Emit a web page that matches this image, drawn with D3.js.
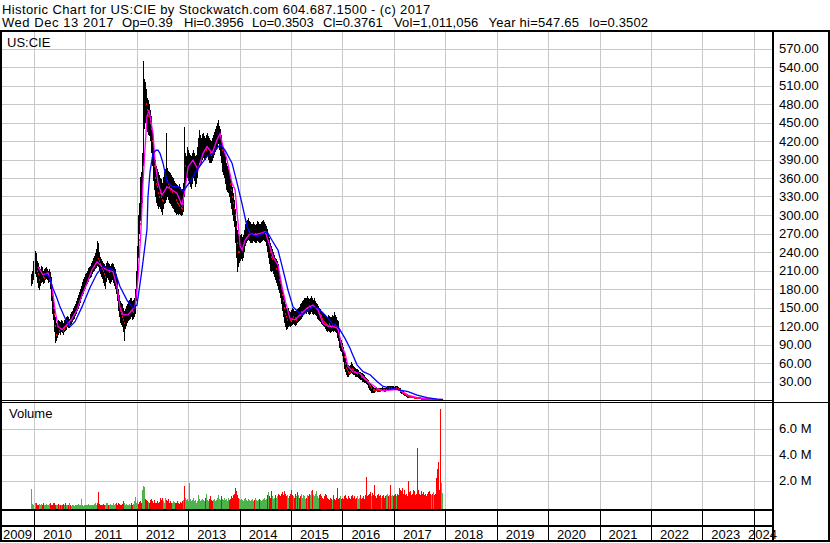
<!DOCTYPE html>
<html><head><meta charset="utf-8">
<script src="https://cdn.jsdelivr.net/npm/d3@7"></script>
<style>
html,body{margin:0;padding:0;background:#fff;}
svg{display:block;font-family:"Liberation Sans",Arial,sans-serif;font-size:13px;}
</style></head><body>
<svg id="c" width="830" height="543"></svg>
<script>
// ---------------- DATA ----------------
const titleText = "Historic Chart for US:CIE by Stockwatch.com 604.687.1500 - (c) 2017";
const infoFields = ["Wed Dec 13 2017","Op=0.39","Hi=0.3956","Lo=0.3503","Cl=0.3761","Vol=1,011,056","Year hi=547.65","lo=0.3502"];
const symbolText = "US:CIE";
const volumeText = "Volume";
const yearLabels = [2009,2010,2011,2012,2013,2014,2015,2016,2017,2018,2019,2020,2021,2022,2023,2024];
const priceTicks = [30,60,90,120,150,180,210,240,270,300,330,360,390,420,450,480,510,540,570];
const volTicks = [2,4,6]; // millions

// bars: evenly sampled (~weekly) from first to last date
const barFirstYear = 2009.961;
const barLastDate = [2017, 11, 13];

const hi = [
205,210,225,242,238,225,222,215,212,218,
215,210,212,214,216,212,210,212,208,200,
185,168,150,135,125,128,130,128,126,130,
128,125,130,132,134,136,134,132,140,142,
145,150,152,155,160,165,170,175,180,185,
192,196,200,204,206,210,214,216,218,222,
226,230,234,238,245,258,255,240,232,228,
225,222,220,218,222,225,222,220,218,220,
222,220,216,212,205,195,180,170,160,158,
155,150,145,148,152,155,160,162,165,166,
160,162,165,180,210,250,300,320,362,370,
400,549,520,515,505,490,486,480,470,460,
440,417,400,389,380,375,370,365,360,358,
352,362,370,375,433,376,372,370,368,365,
362,360,355,352,350,348,345,350,345,340,
342,352,443,400,395,411,405,400,398,395,
400,405,400,395,398,410,425,438,430,425,
432,433,428,425,430,433,428,425,422,420,
425,430,435,440,445,450,454,445,440,430,
415,410,400,395,385,380,375,372,365,355,
345,335,324,310,290,275,270,265,268,270,
265,268,275,285,290,292,295,290,288,285,
286,288,285,284,286,290,288,286,285,288,
290,292,288,285,282,278,270,262,255,250,
245,240,235,230,228,225,220,210,200,190,
180,173,165,155,150,148,150,145,142,146,
150,148,145,144,146,148,150,151,155,158,
160,162,165,166,165,168,165,163,166,168,
165,162,165,160,158,155,152,150,148,145,
142,141,140,138,136,135,138,136,135,134,
138,136,143,138,134,130,128,115,100,97,
92,86,76,68,62,58,57,55,57,62,
58,55,54,52,50,50,48,46,45,44,
43,42,40,38,36,34,32,30,27,24,
22,21,20,20,21,20,20,19,20,20,
21,20,19,20,21,22,22,23,22,23,
22,22,21,22,23,22,21,20,19,17,
15,14,12,11,10,9,8,7,7,6.5,
6,6,5.5,5,5,4.5,4,4,3.5,3.2,
3,2.8,2.6,2.4,2.2,2,1.8,1.6,1.4,1.2,
1.1,1,0.95,0.9,0.85,0.8,0.7,0.6,0.5,0.45,
0.3956];

const lo = [
185,188,195,205,200,190,182,178,185,190,
192,188,190,195,196,194,190,192,180,160,
140,130,110,92,95,100,105,108,106,110,
108,106,110,112,114,118,116,117,122,124,
126,130,132,136,140,145,148,152,158,164,
168,172,176,180,185,188,192,196,198,200,
205,208,210,212,214,218,215,210,205,200,
196,190,185,180,192,198,195,190,188,192,
195,190,185,180,172,160,145,135,125,122,
118,110,95,115,120,125,128,130,132,134,
130,132,135,140,160,190,230,270,290,300,
320,380,440,450,445,435,430,428,420,400,
380,355,340,330,320,315,310,313,310,305,
300,310,318,320,325,330,325,320,318,315,
312,310,305,303,300,302,300,302,300,298,
300,305,330,350,355,360,355,350,345,342,
350,360,355,345,350,360,375,384,380,385,
390,392,390,389,392,395,390,385,384,385,
388,392,398,402,405,410,415,405,395,385,
370,365,360,350,340,338,335,330,320,310,
300,290,280,255,230,208,215,222,225,228,
225,230,240,250,255,258,260,258,255,254,
255,258,256,254,255,258,256,255,254,256,
258,260,258,256,250,240,230,220,210,207,
210,205,200,195,190,185,178,173,165,155,
145,135,125,118,113,115,118,120,119,120,
122,124,122,120,122,125,126,128,130,132,
135,138,140,142,140,142,140,138,140,142,
140,138,140,138,136,132,130,128,126,124,
122,120,118,115,112,110,112,110,108,110,
112,110,112,110,108,100,95,85,80,78,
72,62,50,45,40,38,38,40,42,44,
42,40,40,38,37,38,36,34,33,32,
30,30,28,27,26,24,20,16,14,12,
12,12,12,13,14,13,13,13,14,14,
14,14,13,14,15,16,17,17,17,17,
16,16,16,17,17,16,15,14,12,10,
9,8,7,6,5,4,4,3.5,3.5,3,
3,3,2.8,2.5,2.4,2.2,2,2,1.8,1.6,
1.5,1.4,1.3,1.2,1.1,1,0.9,0.8,0.7,0.6,
0.55,0.5,0.5,0.45,0.42,0.4,0.38,0.36,0.35,0.35,
0.3503];

const cl = [
195,200,215,230,210,205,195,200,205,210,
200,198,205,208,210,204,200,205,190,170,
150,140,120,105,110,115,112,118,115,120,
112,115,122,120,125,128,124,126,130,134,
136,140,144,146,150,156,160,166,170,176,
182,186,189,192,196,200,205,208,211,214,
218,220,222,226,230,228,225,220,215,212,
210,205,200,205,210,212,208,205,206,210,
212,208,205,198,185,170,155,145,140,135,
130,125,128,135,140,142,145,148,150,145,
142,148,150,165,200,240,260,285,310,330,
380,480,490,480,470,460,470,450,440,420,
400,380,360,350,345,335,330,335,330,325,
322,340,345,350,355,350,345,340,342,338,
340,338,330,325,320,318,315,320,312,310,
318,330,380,375,380,390,385,380,375,372,
385,390,378,370,380,395,405,415,405,410,
415,418,410,405,415,420,410,400,398,400,
405,412,420,425,430,435,440,430,420,405,
400,395,390,380,365,360,355,350,340,330,
320,310,300,280,255,240,240,245,248,250,
245,255,262,270,275,278,280,275,272,270,
272,275,270,270,272,276,274,270,270,274,
278,280,275,272,268,258,250,240,232,228,
230,225,218,212,210,205,195,190,182,170,
160,150,140,135,130,132,135,130,128,132,
135,138,133,130,134,136,140,138,142,145,
150,152,155,154,150,155,152,150,155,158,
152,150,154,150,148,145,142,138,136,132,
128,126,125,124,122,120,124,120,118,120,
125,120,122,118,115,110,105,95,90,85,
80,70,58,52,48,45,44,46,48,50,
48,46,45,44,42,44,42,40,38,37,
35,34,33,32,30,28,25,22,20,18,
16,16,15,16,17,16,16,15,16,17,
17,16,15,16,18,19,19,20,19,20,
19,18,18,19,20,18,17,16,14,12,
11,10,9,8,7,6,5.5,5,5,4.5,
4.2,4,3.8,3.5,3.2,3,2.8,2.6,2.4,2.2,
2,1.9,1.8,1.7,1.6,1.4,1.3,1.2,1,0.9,
0.8,0.75,0.7,0.65,0.6,0.55,0.5,0.45,0.42,0.4,
0.3761];

// volume, millions of shares
const vol = [
1.35,0.2,0.12,0.25,0.3,0.15,0.1,0.18,0.1,0.2,
0.12,0.25,0.1,0.15,0.22,0.1,0.12,0.2,0.25,0.1,
0.15,0.3,0.28,0.15,0.1,0.12,0.2,0.1,0.15,0.1,
0.12,0.2,0.1,0.3,0.15,0.1,0.12,0.3,0.1,0.08,
0.1,0.12,0.08,0.1,0.15,0.1,0.2,0.1,0.12,0.55,
0.1,0.08,0.1,0.12,0.1,0.15,0.2,0.1,0.12,0.1,
0.15,0.12,0.2,0.25,0.15,0.3,1.1,0.2,0.15,0.1,
0.12,0.2,0.1,0.15,0.25,0.3,0.1,0.15,0.2,0.12,
0.1,0.3,0.15,0.2,0.25,0.15,0.3,0.2,0.1,0.15,
0.2,0.4,0.3,0.15,0.2,0.1,0.15,0.2,0.12,0.25,
0.15,0.2,0.4,0.75,0.3,0.5,0.2,0.35,0.4,0.3,
1.3,1.6,1.5,0.6,0.5,0.4,0.35,0.3,0.5,0.6,
0.4,0.3,0.5,0.3,0.25,0.4,0.3,0.35,0.7,0.5,
0.7,0.4,0.3,0.65,0.5,0.4,0.55,0.3,0.4,0.25,
0.3,0.4,0.35,0.3,0.25,0.4,0.3,0.2,0.35,0.3,
0.4,0.5,1.6,0.7,0.5,0.6,0.4,1.8,0.6,0.4,
0.5,0.7,0.4,0.5,0.3,0.4,0.9,0.6,0.4,0.5,
0.6,0.5,0.4,0.7,1.0,0.5,0.4,0.6,0.8,0.5,
0.4,0.5,0.6,0.4,0.5,0.7,0.9,0.6,0.5,0.8,
0.6,0.5,0.7,0.5,0.6,0.4,0.7,0.5,0.6,0.8,
0.7,0.9,1.0,1.4,1.2,0.9,0.7,0.6,0.5,0.6,
0.5,0.4,0.6,0.7,0.5,0.4,0.6,0.5,0.4,0.5,
0.6,0.4,0.5,0.7,0.5,0.4,0.5,0.6,0.5,0.4,
0.5,0.6,0.7,0.5,0.6,0.9,1.1,0.8,0.7,1.2,
0.8,0.6,0.7,0.9,0.7,0.8,1.0,0.9,0.8,1.0,
1.1,0.9,1.2,1.0,0.8,0.9,0.7,0.8,1.0,1.3,
0.9,0.8,0.7,1.0,0.8,1.1,0.9,0.7,0.8,1.0,
0.7,0.9,0.8,0.6,0.7,0.9,0.8,1.0,0.9,1.2,
1.3,0.9,0.8,1.0,1.2,0.8,0.7,0.9,1.0,0.8,
0.7,0.6,0.8,1.0,0.9,0.7,0.6,0.5,0.7,0.6,
0.5,0.9,0.6,0.5,0.7,1.45,0.6,0.7,0.8,0.6,
0.7,0.6,0.8,0.9,0.7,0.6,0.8,0.7,0.6,0.8,
0.9,0.7,0.8,0.6,0.7,0.8,0.6,0.7,0.9,0.6,
0.7,0.8,0.6,0.9,2.3,0.8,0.9,1.0,1.1,0.8,
1.05,0.9,1.7,0.8,0.7,0.9,1.0,0.8,0.9,0.7,
0.8,0.9,0.7,0.8,0.9,1.0,0.8,0.9,1.65,0.8,
0.9,0.8,0.9,1.0,0.8,1.0,0.9,1.4,1.3,1.2,
1.4,1.0,1.3,0.9,1.0,0.8,2.0,1.1,1.2,0.9,
1.0,1.3,1.2,0.9,1.0,4.5,1.3,1.0,0.9,1.2,
1.0,1.1,0.9,1.0,0.8,1.0,1.1,1.2,1.0,0.9,
1.0,1.1,0.9,1.0,2.2,2.9,3.4,1.3,7.5,1.8,
1.01];

// short moving average (magenta): decimal year / value
const maShortT = [2010.078,2010.175,2010.272,2010.350,2010.409,2010.467,2010.545,2010.642,2010.739,2010.837,2010.934,2011.031,2011.128,2011.226,2011.323,2011.420,2011.537,2011.615,2011.673,2011.732,2011.829,2011.907,2011.965,2012.023,2012.082,2012.121,2012.198,2012.237,2012.315,2012.354,2012.412,2012.490,2012.588,2012.685,2012.782,2012.879,2012.938,2012.996,2013.093,2013.191,2013.288,2013.366,2013.463,2013.560,2013.619,2013.677,2013.755,2013.852,2013.911,2013.969,2014.008,2014.047,2014.105,2014.202,2014.300,2014.397,2014.494,2014.553,2014.650,2014.747,2014.825,2014.883,2014.981,2015.078,2015.175,2015.311,2015.428,2015.525,2015.623,2015.720,2015.817,2015.914,2015.992,2016.051,2016.109,2016.206,2016.342,2016.440,2016.537,2016.673,2016.790,2016.926,2017.062,2017.160,2017.276,2017.451,2017.646,2017.957];
const maShortV = [216,203,206,186,146,119,114,122,132,146,170,189,211,224,216,211,208,184,151,138,138,146,151,195,276,352,459,470,433,389,352,332,346,341,335,316,341,378,389,373,400,411,400,422,432,411,389,351,341,287,250,243,259,270,268,270,273,259,232,219,184,162,132,130,138,149,154,146,124,120,119,116,86,76,54,46,43,35,27,19,15,16,17,13.5,8,4,2,0.5];

// long moving average (blue)
const maLongT = [2010.214,2010.292,2010.370,2010.447,2010.506,2010.603,2010.700,2010.798,2010.934,2011.089,2011.226,2011.342,2011.479,2011.576,2011.673,2011.809,2011.926,2012.004,2012.101,2012.198,2012.218,2012.257,2012.315,2012.374,2012.412,2012.451,2012.510,2012.588,2012.685,2012.802,2012.899,2013.035,2013.171,2013.366,2013.482,2013.619,2013.716,2013.852,2013.949,2014.047,2014.144,2014.202,2014.339,2014.533,2014.630,2014.747,2014.844,2014.942,2015.039,2015.136,2015.233,2015.331,2015.428,2015.525,2015.661,2015.798,2015.914,2016.051,2016.148,2016.187,2016.284,2016.401,2016.537,2016.673,2016.790,2016.965,2017.121,2017.276,2017.451,2017.646,2017.840,2017.957];
const maLongV = [205,200,181,165,151,133,119,127,151,182,205,216,214,208,184,162,149,154,211,276,330,370,400,405,405,400,384,354,346,346,338,354,373,395,400,414,405,384,352,318,281,270,265,273,259,243,211,178,151,143,138,146,151,149,138,124,119,100,84,76,57,46,41,30,22,19,16,13.5,8,4,1.5,0.8];

// ---------------- LAYOUT ----------------
const W = 830, H = 543;
const plotL = 2, plotR = 773;
const priceTop = 32, priceBot = 400;
const volTop = 402.5, volBot = 509.5;
const gridColor = "#c8c8c8";
const upColor = "#4db34d", downColor = "#ff0000";

function yr(t) {
  const y = Math.floor(t);
  const a = new Date(y, 0, 1), b = new Date(y + 1, 0, 1);
  return new Date(+a + (t - y) * (b - a));
}

const svg = d3.select("#c");
svg.append("rect").attr("width", W).attr("height", H).attr("fill", "#fff");

const x = d3.scaleTime().domain([new Date(2010,0,1), new Date(2024,0,1)]).range([34, 753.7]);
const y = d3.scaleLinear().domain([0, 600]).range([priceBot, priceBot - 600 * 18.5 / 30]);
const vy = d3.scaleLinear().domain([0, 8]).range([506.6, 402.6]);

const defs = svg.append("defs");
defs.append("clipPath").attr("id", "pclip").append("rect")
  .attr("x", plotL).attr("y", priceTop).attr("width", plotR - plotL).attr("height", priceBot - priceTop);
defs.append("clipPath").attr("id", "vclip").append("rect")
  .attr("x", plotL).attr("y", volTop).attr("width", plotR - plotL).attr("height", volBot - volTop);

// ---- grids ----
const grid = svg.append("g").attr("shape-rendering", "crispEdges");
const boundaries = d3.range(2010, 2025).map(yv => x(new Date(yv, 0, 1))).filter(v => v < plotR);
grid.selectAll("line.ph").data(priceTicks).join("line")
  .attr("x1", plotL).attr("x2", plotR)
  .attr("y1", d => Math.round(y(d)) + 0.5).attr("y2", d => Math.round(y(d)) + 0.5)
  .attr("stroke", gridColor).attr("stroke-width", 1);
grid.selectAll("line.vh").data(volTicks).join("line")
  .attr("x1", plotL).attr("x2", plotR)
  .attr("y1", d => Math.round(vy(d)) + 0.5).attr("y2", d => Math.round(vy(d)) + 0.5)
  .attr("stroke", gridColor).attr("stroke-width", 1);
grid.selectAll("line.yv").data(boundaries).join("line")
  .attr("x1", d => Math.round(d) + 0.5).attr("x2", d => Math.round(d) + 0.5)
  .attr("y1", priceTop).attr("y2", volBot)
  .attr("stroke", gridColor).attr("stroke-width", 1);

// ---- bar dates ----
const n = Math.min(hi.length, lo.length, cl.length, vol.length);
const t0 = +yr(barFirstYear), t1 = +new Date(barLastDate[0], barLastDate[1], barLastDate[2]);
const bars = d3.range(n).map(i => ({
  date: new Date(t0 + (t1 - t0) * i / (n - 1)),
  hi: hi[i], lo: lo[i], cl: cl[i], vol: vol[i],
  up: cl[i] >= (hi[i] + lo[i]) / 2
}));

// ---- volume ----
const vg = svg.append("g").attr("clip-path", "url(#vclip)").attr("shape-rendering", "crispEdges");
vg.selectAll("rect").data(bars).join("rect")
  .attr("x", d => Math.floor(x(d.date)))
  .attr("width", 1.4)
  .attr("y", d => vy(d.vol))
  .attr("height", d => volBot - vy(d.vol))
  .attr("fill", d => d.up ? upColor : downColor);

// ---- price bars ----
const pg = svg.append("g").attr("clip-path", "url(#pclip)").attr("shape-rendering", "crispEdges");
pg.selectAll("rect.b").data(bars).join("rect").attr("class", "b")
  .attr("x", d => Math.floor(x(d.date)))
  .attr("width", 1.2)
  .attr("y", d => y(d.hi))
  .attr("height", d => Math.max(1.2, y(d.lo) - y(d.hi)))
  .attr("fill", "#000");
pg.selectAll("rect.t").data(bars.filter(d => !d.up)).join("rect").attr("class", "t")
  .attr("x", d => Math.floor(x(d.date)) + 1)
  .attr("width", 1.2)
  .attr("y", d => y(d.cl) - 1)
  .attr("height", 2)
  .attr("fill", downColor);

// ---- moving averages ----
const mg = svg.append("g").attr("clip-path", "url(#pclip)");
const lineGen = d3.line().x(d => x(yr(d[0]))).y(d => y(d[1]));
mg.append("path").datum(d3.zip(maShortT, maShortV)).attr("d", lineGen)
  .attr("fill", "none").attr("stroke", "#ff00ff").attr("stroke-width", 1.3);
mg.append("path").datum(d3.zip(maLongT, maLongV)).attr("d", lineGen)
  .attr("fill", "none").attr("stroke", "#0000ff").attr("stroke-width", 1.3);

// ---- frame ----
const fr = svg.append("g").attr("fill", "#000").attr("shape-rendering", "crispEdges");
fr.append("rect").attr("x", 0).attr("y", 29.5).attr("width", W).attr("height", 2.5);
fr.append("rect").attr("x", 0).attr("y", 29.5).attr("width", 2.3).attr("height", 512.5);
fr.append("rect").attr("x", 772).attr("y", 29.5).attr("width", 2).attr("height", 512.5);
fr.append("rect").attr("x", 827.7).attr("y", 29.5).attr("width", 2.3).attr("height", 512.5);
fr.append("rect").attr("x", 0).attr("y", 540.3).attr("width", W).attr("height", 1.8);
fr.append("rect").attr("x", 0).attr("y", 399.8).attr("width", plotR).attr("height", 1.3);
fr.append("rect").attr("x", 0).attr("y", 401.9).attr("width", W).attr("height", 1.3);
fr.append("rect").attr("x", 0).attr("y", 509.3).attr("width", plotR).attr("height", 1.8);
fr.append("rect").attr("x", 0).attr("y", 525.3).attr("width", plotR).attr("height", 2);
fr.selectAll("rect.sep").data(boundaries).join("rect").attr("class", "sep")
  .attr("x", d => Math.round(d) - 0.2).attr("width", 1.4)
  .attr("y", 510).attr("height", 31);

// ---- texts ----
const tx = svg.append("g").attr("fill", "#000");
tx.append("text").attr("x", 2).attr("y", 13.5).attr("letter-spacing", "0.39px").text(titleText);
// header info line: first fields at measured starts, later fields follow with a fixed gap
const infoStart = [2, 122, 184, 252, 323, 394];
const infoSpacing = [0.55, 0.1, 0, 0, 0, 0.15, 0.25, 0.15];
let cursor = 0;
infoFields.forEach((f, i) => {
  const px = i < infoStart.length ? infoStart[i] : cursor + 10;
  const t = tx.append("text").attr("x", px).attr("y", 27.3)
    .attr("letter-spacing", infoSpacing[i] + "px").text(f);
  cursor = px + t.node().getComputedTextLength();
});
tx.append("text").attr("x", 7).attr("y", 46.5).text(symbolText);
tx.append("text").attr("x", 9).attr("y", 418.3).text(volumeText);

const fmtP = d3.format(".2f");
tx.selectAll("text.pt").data(priceTicks).join("text").attr("class", "pt")
  .attr("x", 779).attr("y", d => y(d) + 4.5).text(d => fmtP(d));
tx.selectAll("text.vt").data(volTicks).join("text").attr("class", "vt")
  .attr("x", 779).attr("y", d => vy(d) + 4.4).text(d => d.toFixed(1) + " M");

tx.selectAll("text.yr").data(yearLabels).join("text").attr("class", "yr")
  .attr("x", d => Math.max(3, Math.min(x(new Date(d, 0, 1)) + 9, 748)))
  .attr("y", 539).text(d => d);
</script>
</body></html>
